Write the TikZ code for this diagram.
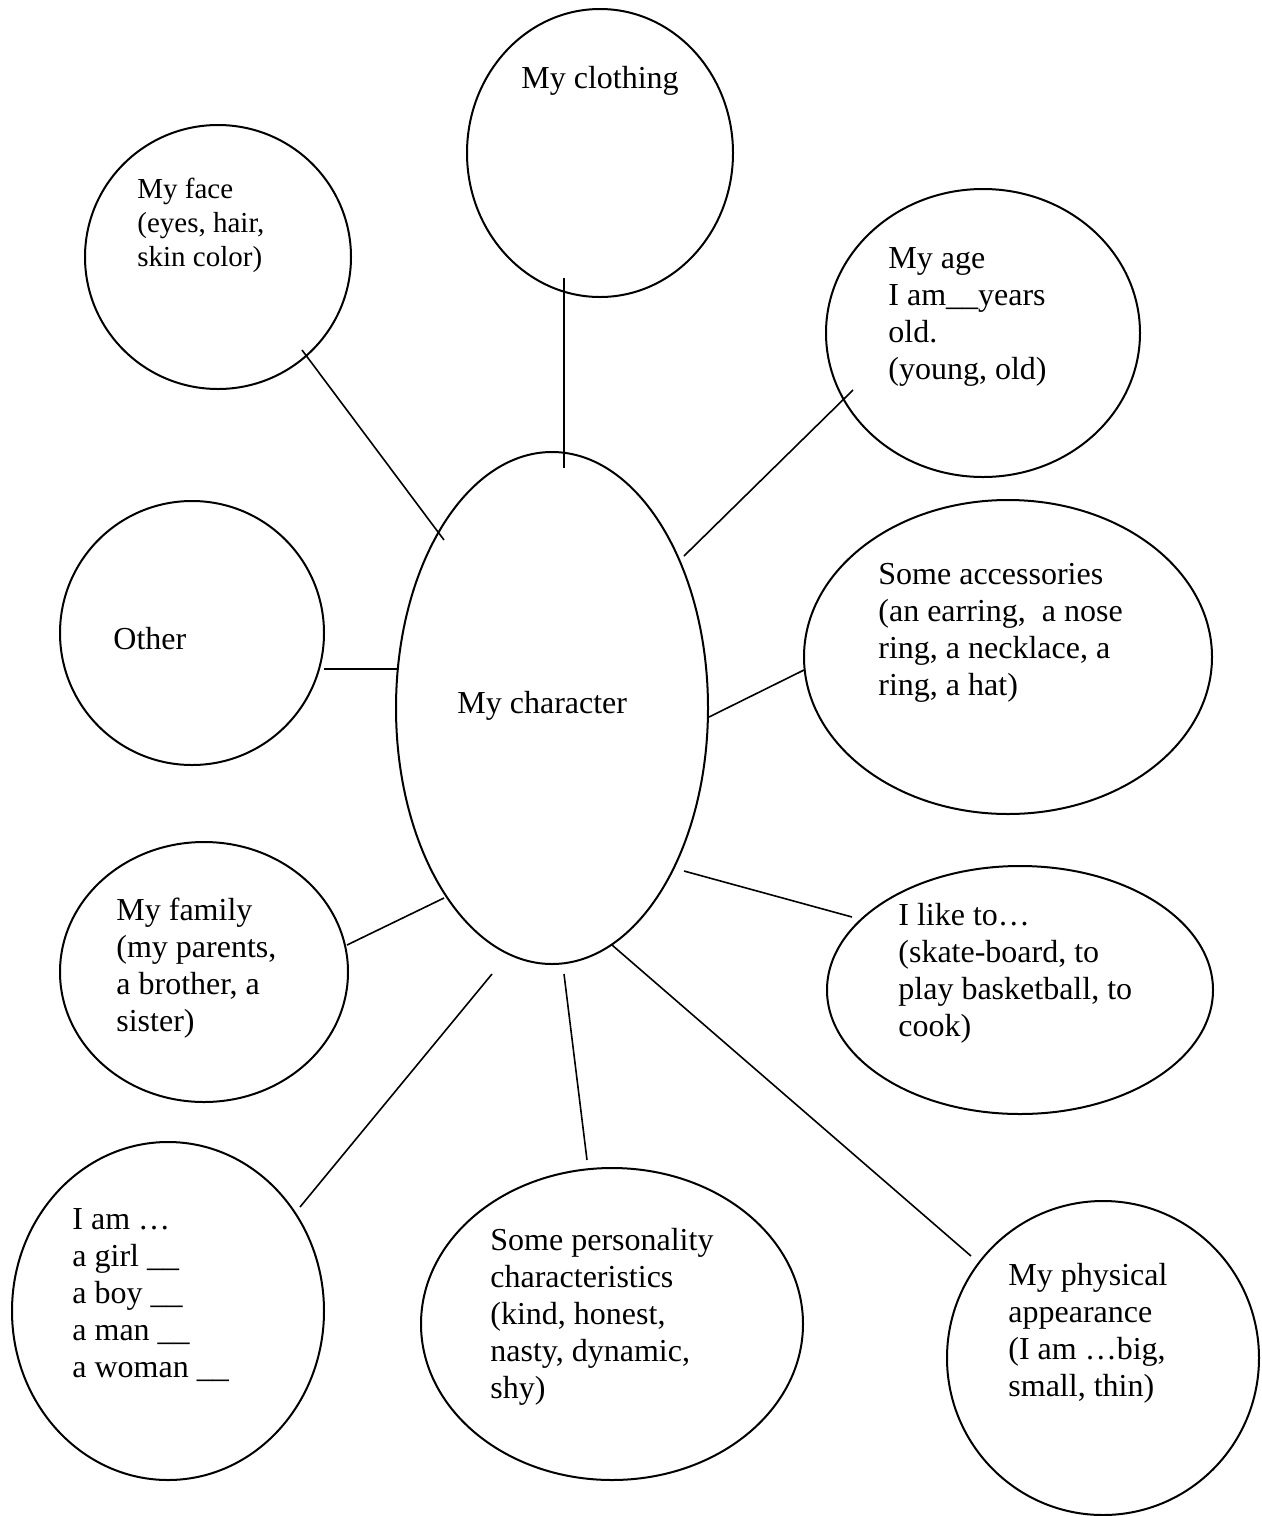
\documentclass[tikz,border=0pt]{standalone}
\usepackage{fontspec}
\setmainfont{Liberation Serif}
\usetikzlibrary{shapes.geometric}
\begin{document}
\begin{tikzpicture}[x=0.5pt,y=-0.5pt,
  bubble/.style={draw, ellipse, inner sep=0pt, line width=1pt},
  lbl/.style={anchor=north west, inner sep=0pt, align=left, font=\fontsize{16}{18.5}\selectfont},
  lblsmall/.style={anchor=north west, inner sep=0pt, align=left, font=\fontsize{14.5}{17}\selectfont},
  link/.style={line width=0.8pt}]
\useasboundingbox (0,0) rectangle (1262,1516);
\newcommand\fl{\rule{0pt}{12.8pt}}
% bubbles
\node[bubble, minimum width=133pt, minimum height=144pt] (clothing) at (600,153) {};
\node[bubble, minimum width=133pt, minimum height=132pt] (face) at (218,257) {};
\node[bubble, minimum width=157pt, minimum height=144pt] (age) at (983,333) {};
\node[bubble, minimum width=132pt, minimum height=132pt] (other) at (192,633) {};
\node[bubble, minimum width=156pt, minimum height=256pt] (char) at (552,708) {};
\node[bubble, minimum width=204pt, minimum height=157pt] (acc) at (1008,657) {};
\node[bubble, minimum width=144pt, minimum height=130pt] (family) at (204,972) {};
\node[bubble, minimum width=193pt, minimum height=124pt] (like) at (1020,990) {};
\node[bubble, minimum width=156pt, minimum height=169pt] (iam) at (168,1311) {};
\node[bubble, minimum width=191pt, minimum height=156pt] (pers) at (612,1324) {};
\node[bubble, minimum width=156pt, minimum height=157pt] (phys) at (1103,1358) {};
% labels
\node[lbl] (tclothing) at (521,62.4) {\fl My clothing};
\node[lblsmall] (tface) at (137,172.4) {\fl My face\\(eyes, hair,\\skin color)};
\node[lbl] (tage) at (888,242.4) {\fl My age\\I am\_\_years\\old.\\(young, old)};
\node[lbl] (tother) at (113,623.4) {\fl Other};
\node[lbl] (tchar) at (457,687.4) {\fl My character};
\node[lbl] (tacc) at (878,558.4) {\fl Some accessories\\(an earring, \ a nose\\ring, a necklace, a\\ring, a hat)};
\node[lbl] (tfamily) at (116,894.4) {\fl My family\\(my parents,\\a brother, a\\sister)};
\node[lbl] (tlike) at (898,899.4) {\fl I like to…\\(skate-board, to\\play basketball, to\\cook)};
\node[lbl] (tiam) at (72,1203.4) {\fl I am …\\a girl \_\_\\a boy \_\_\\a man \_\_\\a woman \_\_};
\node[lbl] (tpers) at (490,1224.4) {\fl Some personality\\characteristics\\(kind, honest,\\nasty, dynamic,\\shy)};
\node[lbl] (tphys) at (1008,1259.4) {\fl My physical\\appearance\\(I am …big,\\small, thin)};
% connector end points
\coordinate (f1) at (302,350);   \coordinate (f2) at (444,540);
\coordinate (c1) at (564,278);   \coordinate (c2) at (564,468);
\coordinate (a1) at (853,390);   \coordinate (a2) at (684,556);
\coordinate (o1) at (324,669);   \coordinate (o2) at (397,669);
\coordinate (s1) at (804,670);   \coordinate (s2) at (709,717);
\coordinate (l1) at (852,917);   \coordinate (l2) at (684,871);
\coordinate (m1) at (347,945);   \coordinate (m2) at (444,898);
\coordinate (i1) at (300,1207);  \coordinate (i2) at (492,974);
\coordinate (p1) at (587,1160);  \coordinate (p2) at (564,974);
\coordinate (h1) at (971,1256);  \coordinate (h2) at (612,945);
% connectors
\draw[link] (f1) -- (f2);
\draw[link] (c1) -- (c2);
\draw[link] (a1) -- (a2);
\draw[link] (o1) -- (o2);
\draw[link] (s1) -- (s2);
\draw[link] (l1) -- (l2);
\draw[link] (m1) -- (m2);
\draw[link] (i1) -- (i2);
\draw[link] (p1) -- (p2);
\draw[link] (h1) -- (h2);
\end{tikzpicture}
\end{document}
